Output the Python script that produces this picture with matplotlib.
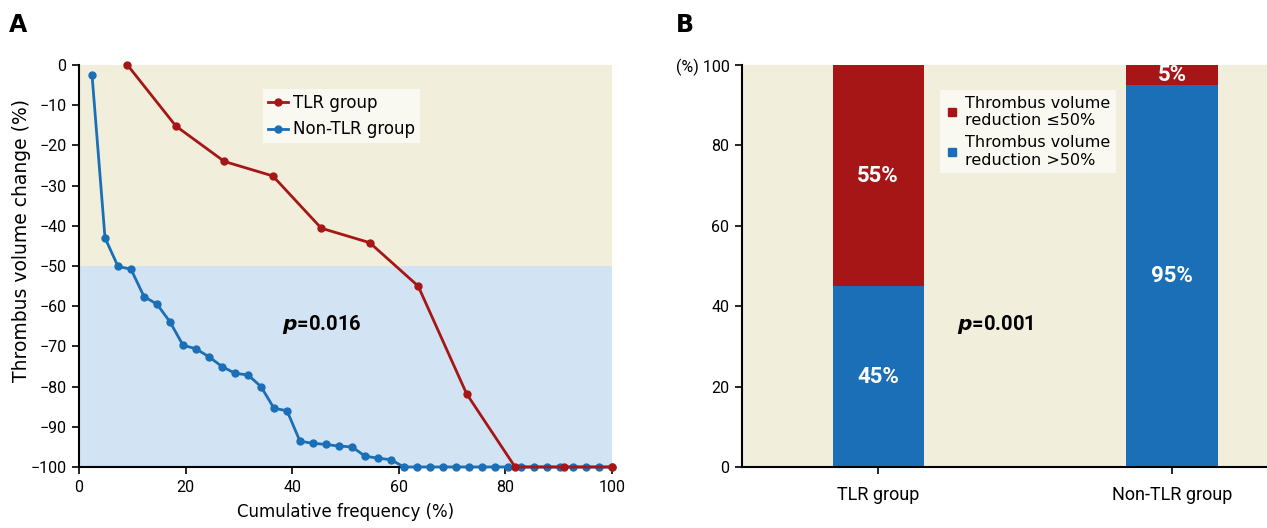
import matplotlib as mpl
mpl.use('Agg')
import matplotlib.pyplot as plt
from matplotlib.lines import Line2D
import numpy as np

# panel A: cumulative frequency of thrombus volume change
tlr_n = 11
tlr_change = [0, -15.2, -24.0, -27.6, -40.6, -44.2, -55.0, -81.8, -100, -100, -100]
non_n = 41
non_change = [-2.4, -43.0, -50.1, -50.8, -57.6, -59.5, -63.9, -69.7, -70.6, -72.6,
              -75.0, -76.7, -77.1, -80.0, -85.4, -86.0, -93.6, -94.1, -94.4, -94.8,
              -95.0, -97.3, -97.8, -98.2] + [-100] * 17

# panel B: stacked proportions
groups = ['TLR group', 'Non-TLR group']
red_pct = [55, 5]     # reduction <=50%
blue_pct = [45, 95]   # reduction >50%

tlr_x = np.arange(1, tlr_n + 1) / tlr_n * 100
non_x = np.arange(1, non_n + 1) / non_n * 100

RED = '#a61616'
BLUE = '#1b6fb7'
BEIGE = '#f1eedc'
LBLUE = '#d2e4f4'
narrow = ['Roboto', 'DejaVu Sans']
plt.rcParams['font.family'] = ['DejaVu Sans']

fig = plt.figure(figsize=(12.67, 5.28), dpi=100)
axA = fig.add_axes([79/1267, 61/528, 533/1267, 402/528])
axB = fig.add_axes([742/1267, 61/528, 525/1267, 402/528])

# ---- A
axA.axhspan(-50, 0, color=BEIGE, lw=0, zorder=0)
axA.axhspan(-100, -50, color=LBLUE, lw=0, zorder=0)
axA.plot(non_x, non_change, '-o', color=BLUE, lw=2, ms=5, clip_on=False, zorder=3, label='Non-TLR group')
axA.plot(tlr_x, tlr_change, '-o', color=RED, lw=2, ms=5, clip_on=False, zorder=4, label='TLR group')
axA.set_xlim(0, 100)
axA.set_ylim(-100, 0)
axA.set_xticks(np.arange(0, 101, 20))
axA.set_yticks(np.arange(-100, 1, 10))
for s in ['top', 'right']:
    axA.spines[s].set_visible(False)
for s in ['left', 'bottom']:
    axA.spines[s].set_linewidth(1.5)
axA.tick_params(direction='out', length=5, width=1.2, labelsize=11.5, pad=4)
for lab in axA.get_xticklabels() + axA.get_yticklabels():
    lab.set_family(narrow)
axA.set_xlabel('Cumulative frequency (%)', fontsize=12, labelpad=6)
fig.text(22/1267, 1 - 240/528, 'Thrombus volume change (%)', fontsize=13.5, rotation=90,
         ha='center', va='center')
h, l = axA.get_legend_handles_labels()
legA = axA.legend(h[::-1], l[::-1], loc='upper left', bbox_to_anchor=(0.345, 0.94), fontsize=12,
                  frameon=True, fancybox=False, handlelength=1.2, handletextpad=0.3,
                  borderpad=0.3, labelspacing=0.5, borderaxespad=0)
legA.get_frame().set_facecolor('#f9f8f1')
legA.get_frame().set_edgecolor('none')
legA.get_frame().set_alpha(1)
axA.text(45.5, -64.5, r'$\mathbfit{p}$=0.016', fontsize=14.5, fontweight='bold', ha='center', va='center',
         family=narrow)

# ---- B
axB.set_facecolor(BEIGE)
xpos = np.arange(len(groups))
axB.bar(xpos, blue_pct, width=0.31, color=BLUE, zorder=2)
axB.bar(xpos, red_pct, width=0.31, bottom=blue_pct, color=RED, zorder=2)
for i in range(len(groups)):
    axB.text(xpos[i], blue_pct[i] / 2, f'{blue_pct[i]}%', color='white', fontsize=16, fontweight='bold',
             ha='center', va='center', family=narrow, zorder=3)
    axB.text(xpos[i], blue_pct[i] + red_pct[i] / 2, f'{red_pct[i]}%', color='white', fontsize=16,
             fontweight='bold', ha='center', va='center', family=narrow, zorder=3)
axB.set_xlim(-0.463, 1.323)
axB.set_ylim(0, 100)
axB.set_yticks(np.arange(0, 101, 20))
axB.set_yticklabels(['0', '20', '40', '60', '80', '(%) 100'])
axB.set_xticks(xpos)
axB.set_xticklabels(groups)
for s in ['top', 'right']:
    axB.spines[s].set_visible(False)
for s in ['left', 'bottom']:
    axB.spines[s].set_linewidth(1.5)
axB.tick_params(direction='out', length=5, width=1.2, labelsize=11.5, pad=4)
axB.tick_params(axis='x', labelsize=13, pad=9)
for lab in axB.get_xticklabels() + axB.get_yticklabels():
    lab.set_family(narrow)
handles = [Line2D([], [], marker='s', ls='none', color=RED, ms=6),
           Line2D([], [], marker='s', ls='none', color=BLUE, ms=6)]
legB = axB.legend(handles, ['Thrombus volume\nreduction \u226450%', 'Thrombus volume\nreduction >50%'],
                  loc='upper left', bbox_to_anchor=(0.378, 0.938), fontsize=11.5, frameon=True, fancybox=False,
                  handlelength=0.8, handletextpad=0.4, borderpad=0.35, labelspacing=0.45, borderaxespad=0)
legB.get_frame().set_facecolor('#f9f8f1')
legB.get_frame().set_edgecolor('none')
legB.get_frame().set_alpha(1)
axB.text(0.40, 35.5, r'$\mathbfit{p}$=0.001', fontsize=14.5, fontweight='bold', ha='center', va='center',
         family=narrow)

fig.text(18/1267, 1 - 25/528, 'A', fontsize=17, fontweight='bold', va='center', ha='center')
fig.text(685/1267, 1 - 25/528, 'B', fontsize=17, fontweight='bold', va='center', ha='center')

fig.savefig('out.png', dpi=100)
